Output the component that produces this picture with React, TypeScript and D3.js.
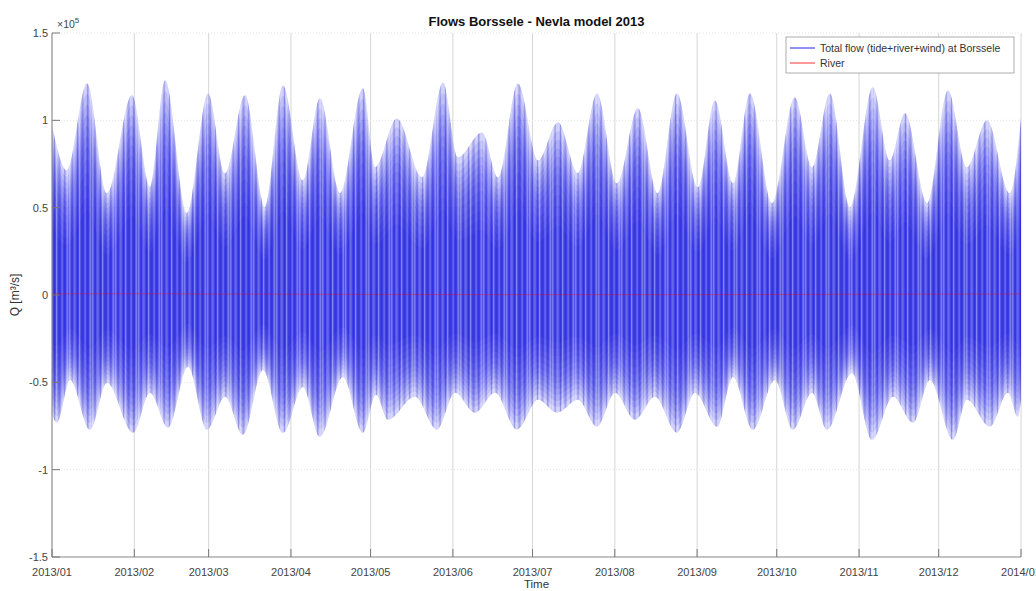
import React from "react";
import * as d3 from "d3";

// Upper envelope of total flow (day of year 2013, m3/s)
const upperDays = [0.0, 5.6, 13.2, 20.7, 30.1, 36.9, 42.6, 50.8, 58.8, 65.2, 72.7, 80.2, 87.0, 94.5, 100.9, 108.5, 117.1, 121.7, 129.9, 139.4, 147.3, 152.9, 162.0, 168.0, 175.5, 183.1, 190.6, 198.1, 205.3, 212.8, 220.7, 228.2, 235.4, 243.3, 249.7, 256.5, 262.9, 271.2, 279.8, 286.3, 293.0, 300.6, 309.2, 315.6, 321.3, 329.6, 337.5, 344.6, 352.2, 360.8, 365.0];
const upperQ = [97100, 71400, 121100, 58300, 114300, 61700, 122900, 46900, 115400, 69700, 114300, 50300, 120000, 65700, 112600, 58300, 118300, 73100, 101100, 67400, 121700, 78900, 93100, 67400, 121100, 77100, 98900, 69700, 115400, 64000, 106900, 58300, 115400, 61700, 111400, 64000, 115400, 52600, 113100, 73100, 115400, 50300, 118900, 77100, 104000, 52600, 117100, 73100, 100000, 58300, 101100];

// Lower envelope of total flow (day of year 2013, m3/s)
const lowerDays = [0.0, 1.9, 6.8, 14.3, 20.7, 30.5, 36.9, 43.7, 51.2, 58.4, 65.2, 71.9, 79.5, 87.0, 94.5, 100.9, 109.6, 117.1, 122.0, 126.6, 136.7, 145.0, 151.8, 159.3, 166.9, 175.1, 183.1, 190.2, 198.1, 205.3, 212.1, 219.6, 227.1, 235.4, 242.2, 250.5, 256.5, 264.0, 272.3, 279.1, 286.3, 291.9, 301.3, 308.9, 316.8, 324.3, 330.7, 339.4, 344.6, 353.3, 360.1, 363.8, 365.0];
const lowerQ = [-68600, -73100, -48600, -77100, -50300, -78900, -56000, -76000, -41100, -77100, -58300, -80000, -42900, -78900, -52600, -81100, -46900, -78900, -57100, -71400, -58300, -77100, -56000, -67400, -56000, -77100, -60000, -67400, -60000, -75400, -56000, -71400, -58300, -78900, -56000, -75400, -46900, -77100, -48600, -77100, -56000, -77100, -44600, -82900, -58300, -73100, -48600, -82900, -60000, -75400, -56000, -69700, -60000];

// River discharge (day of year, m3/s)
const riverDays = [0, 31, 59, 90, 120, 151, 181, 212, 243, 273, 304, 334, 365];
const riverQ = [650, 700, 600, 500, 350, 250, 200, 180, 200, 300, 450, 550, 600];

const xTickLabels = ["2013/01", "2013/02", "2013/03", "2013/04", "2013/05", "2013/06", "2013/07", "2013/08", "2013/09", "2013/10", "2013/11", "2013/12", "2014/01"];
const yTickValues = [-1.5, -1, -0.5, 0, 0.5, 1, 1.5];
const yTickLabels = ["-1.5", "-1", "-0.5", "0", "0.5", "1", "1.5"];

const FONT = "'Liberation Sans', Arial, Helvetica, sans-serif";

export default function App() {
  const left = 52, right = 1021, top = 33, bottom = 557;
  const t0 = Date.UTC(2013, 0, 1);
  const toDate = (d: number) => new Date(t0 + d * 864e5);
  const x = d3.scaleUtc().domain([new Date(t0), new Date(Date.UTC(2014, 0, 1))]).range([left, right]);
  const y = d3.scaleLinear().domain([-1.5e5, 1.5e5]).range([bottom, top]);

  const upper = upperDays.map((d, i) => ({ t: toDate(d), q: upperQ[i] }));
  const lower = lowerDays.map((d, i) => ({ t: toDate(d), q: lowerQ[i] }));

  const halfArea = (pts: { t: Date; q: number }[], k: number) =>
    d3
      .area<{ t: Date; q: number }>()
      .curve(d3.curveMonotoneX)
      .x((p) => x(p.t))
      .y0(y(0))
      .y1((p) => y(p.q * k))(pts) || "";

  // shading layers: density of the dense tidal signal, lighter towards the envelope
  const layerK = [1.0, 0.95, 0.9, 0.85, 0.8, 0.75, 0.7, 0.64, 0.58, 0.52, 0.46, 0.4];
  const layerO = 0.13;

  const riverLine =
    d3
      .line<number>()
      .x((_, i) => x(toDate(riverDays[i])))
      .y((v) => y(v))(riverQ) || "";

  const monthDates = d3.utcMonth.range(new Date(t0), new Date(Date.UTC(2014, 0, 2)));

  const stripes = [
    { x: 0, w: 1.5, c: "#ffffff", o: 0.3 },
    { x: 2.5, w: 1.2, c: "#0000a8", o: 0.22 },
    { x: 4.5, w: 2.2, c: "#ffffff", o: 0.2 },
    { x: 8, w: 1, c: "#0000a8", o: 0.25 },
    { x: 10, w: 1.3, c: "#ffffff", o: 0.35 },
    { x: 12.5, w: 2, c: "#0000a8", o: 0.18 },
    { x: 15.5, w: 1.2, c: "#ffffff", o: 0.25 },
    { x: 18, w: 1.5, c: "#0000a8", o: 0.22 },
    { x: 20.5, w: 1.8, c: "#ffffff", o: 0.3 },
  ];

  return (
    <svg width={1036} height={591} style={{ position: "absolute", left: 0, top: 0, background: "#fff" }} fontFamily={FONT}>
      <defs>
        <clipPath id="plotclip">
          <rect x={left} y={top} width={right - left} height={bottom - top} />
        </clipPath>
        <pattern id="streaks" patternUnits="userSpaceOnUse" width={23} height={20}>
          {stripes.map((s, i) => (
            <rect key={i} x={s.x} y={0} width={s.w} height={20} fill={s.c} opacity={s.o} />
          ))}
        </pattern>
      </defs>

      {/* grid */}
      {monthDates.map((d, i) => (
        <line key={"vg" + i} x1={x(d)} x2={x(d)} y1={top} y2={bottom} stroke="#d6d6d6" strokeWidth={1} />
      ))}
      {yTickValues.map((v, i) => (
        <line key={"hg" + i} x1={left} x2={right} y1={y(v * 1e5)} y2={y(v * 1e5)} stroke="#e4e4e4" strokeWidth={1} strokeDasharray="1,2" />
      ))}

      {/* total flow band */}
      <g clipPath="url(#plotclip)">
        {layerK.map((k, i) => (
          <g key={"ly" + i} fill="#1c1cea" fillOpacity={i === 0 ? 0.24 : layerO}>
            <path d={halfArea(upper, k)} />
            <path d={halfArea(lower, k)} />
          </g>
        ))}
        <g fill="url(#streaks)">
          <path d={halfArea(upper, 1)} />
          <path d={halfArea(lower, 1)} />
        </g>
        <path d={riverLine} fill="none" stroke="#ff0000" strokeWidth={0.8} strokeOpacity={0.45} />
      </g>

      {/* axes */}
      <line x1={left} x2={left} y1={top} y2={bottom} stroke="#8a8a8a" strokeWidth={1} />
      <line x1={left} x2={right} y1={bottom} y2={bottom} stroke="#8a8a8a" strokeWidth={1} />
      {monthDates.map((d, i) => (
        <g key={"xt" + i}>
          <line x1={x(d)} x2={x(d)} y1={bottom} y2={bottom - 8} stroke="#777" strokeWidth={1} />
          <text x={x(d)} y={576} textAnchor="middle" fontSize={11} fill="#444">
            {xTickLabels[i]}
          </text>
        </g>
      ))}
      {yTickValues.map((v, i) => (
        <g key={"yt" + i}>
          <line x1={left} x2={left + 8} y1={y(v * 1e5)} y2={y(v * 1e5)} stroke="#777" strokeWidth={1} />
          <text x={48} y={y(v * 1e5) + 4} textAnchor="end" fontSize={11} fill="#444">
            {yTickLabels[i]}
          </text>
        </g>
      ))}
      <text x={57} y={28} fontSize={10.5} fill="#444">
        ×10
        <tspan dy={-5} fontSize={8}>5</tspan>
      </text>

      {/* labels */}
      <text x={(left + right) / 2} y={26} textAnchor="middle" fontSize={13} fontWeight="bold" fill="#111">
        Flows Borssele - Nevla model 2013
      </text>
      <text x={(left + right) / 2} y={588} textAnchor="middle" fontSize={11.5} fill="#333">
        Time
      </text>
      <text transform={`translate(19,${y(0)}) rotate(-90)`} textAnchor="middle" fontSize={12} fill="#333">
        Q [m³/s]
      </text>

      {/* legend */}
      <rect x={786} y={37} width={228} height={36} fill="#fff" stroke="#999" strokeWidth={0.8} />
      <line x1={790} x2={815} y1={48} y2={48} stroke="#2020ee" strokeWidth={1} />
      <text x={820} y={52} fontSize={10.5} fill="#333">
        Total flow (tide+river+wind) at Borssele
      </text>
      <line x1={790} x2={815} y1={63} y2={63} stroke="#ff3030" strokeWidth={1} />
      <text x={820} y={67} fontSize={10.5} fill="#333">
        River
      </text>
    </svg>
  );
}
